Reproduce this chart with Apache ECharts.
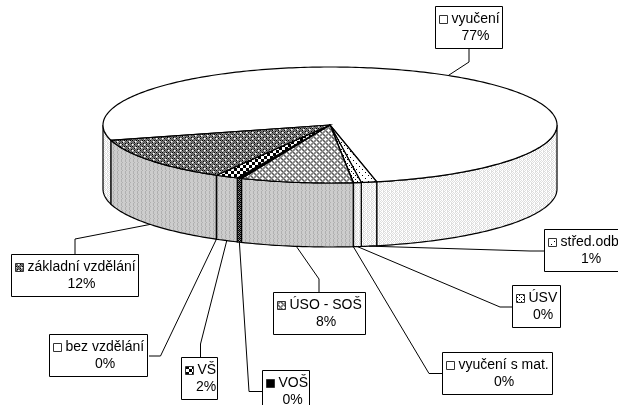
<!DOCTYPE html>
<html>
<head>
<meta charset="utf-8">
<style>html,body{margin:0;padding:0;background:#fff}#chart{width:618px;height:405px}</style>
<script src="https://cdn.jsdelivr.net/npm/echarts@6/dist/echarts.min.js"></script>
</head>
<body>
<div id="chart"></div>
<script>
// clockwise from the back of the pie
var categories = ["vyučení", "střed.odb", "ÚSV", "vyučení s mat.", "ÚSO - SOŠ", "VOŠ", "VŠ", "bez vzdělání", "základní vzdělání"];
var sliceValues = [75.95, 1.1, 0.55, 0.02, 8, 0.33, 1.63, 0.02, 12.4];
var percentLabels = ["77%", "1%", "0%", "0%", "8%", "0%", "2%", "0%", "12%"];

// pie geometry
var cx = 330, cy = 125, rx = 227, ry = 58, depth = 64, startAngle = 164.7;

// label boxes: x, y, w, h, then the elbow of the leader and where it meets the box
var boxes = [
  [435.5, 6.5, 67, 42, [469, 62], [469, 49]],
  [544.5, 229.5, 80, 42, [530, 251], [544, 251]],
  [512.5, 285.5, 48, 42, [500, 307], [512, 307]],
  [442.5, 352.5, 110, 42, [429, 373.5], [442, 373.5]],
  [273.5, 292.5, 92, 42, [319, 279], [319, 292]],
  [262.5, 370.5, 47, 42, [249, 391.5], [262, 391.5]],
  [181.5, 357.5, 36, 42, [200.5, 344], [200.5, 357]],
  [49.5, 334.5, 98, 42, [160.5, 356], [149, 356]],
  [11.5, 254.5, 127, 42, [75, 239], [75, 254]]
];

var shades = { k: "#000", d: "#555", m: "#808080", g: "#a0a0a0", a: "#b0b0b0", c: "#cccccc", l: "#ccc", e: "#dedede", w: "#fff" };
function tile(rows) {
  var c = document.createElement("canvas");
  c.width = rows[0].length;
  c.height = rows.length;
  var ctx = c.getContext("2d");
  rows.forEach(function (row, y) {
    for (var x = 0; x < row.length; x++) {
      ctx.fillStyle = shades[row[x]];
      ctx.fillRect(x, y, 1, 1);
    }
  });
  return { type: "pattern", image: c, repeat: "repeat" };
}

var wallGray = tile(["cacc", "cacc", "ccac", "cacc"]);
var wallLight = tile(["wewe", "ewew", "wewe", "ewwe"]);
var wallDark = tile(["kg", "mk", "kd", "mk"]);
var tops = [
  "#fff",
  tile(["wwwwww", "wwkwww", "wwwwww", "wwwwww", "wwwwwk", "wwwwww"]),
  tile(["wwww", "wkww", "wwww", "wwwk"]),
  "#fff",
  tile(["gwgdgm", "wwwgmg", "gwgmgd", "dgmgwg", "gmgwww", "mgdgwg"]),
  "#000",
  tile(["kkkwww", "kkkwww", "kkkwww", "wwwkkk", "wwwkkk", "wwwkkk"]),
  "#fff",
  tile(["wlkmdm", "lmmdmd", "kmdmkm", "mdmwld", "dmklmm", "mdmdmk"])
];
var walls = [wallLight, wallLight, wallLight, wallGray, wallGray, wallDark, wallGray, wallGray, wallGray];

var total = sliceValues.reduce(function (a, b) { return a + b; }, 0);
var spans = [];
sliceValues.reduce(function (from, v) {
  var to = from + v / total * 360;
  spans.push([from, to]);
  return to;
}, startAngle);

function rim(deg, drop) {
  var t = deg * Math.PI / 180;
  return [cx + rx * Math.cos(t), cy + drop + ry * Math.sin(t)];
}
function arc(from, to, drop) {
  var pts = [];
  var n = Math.max(1, Math.ceil(Math.abs(to - from)));
  for (var i = 0; i <= n; i++) pts.push(rim(from + (to - from) * i / n, drop));
  return pts;
}

var line = { stroke: "#000", lineWidth: 1.2 };

function renderSlice(params) {
  var i = params.dataIndex;
  var a = spans[i][0], b = spans[i][1];
  var children = [];
  // walls show only on the front half, t in 0..180 (also 360..540)
  [[0, 180], [360, 540]].forEach(function (front) {
    var from = Math.max(a, front[0]), to = Math.min(b, front[1]);
    if (to <= from) return;
    children.push({
      type: "polygon",
      shape: { points: arc(from, to, 0).concat(arc(to, from, depth)) },
      style: Object.assign({ fill: walls[i] }, line)
    });
  });
  children.push({
    type: "polygon",
    shape: { points: [[cx, cy]].concat(arc(a, b, 0)) },
    style: Object.assign({ fill: tops[i] }, line)
  });
  return { type: "group", children: children };
}

function renderLabel(params) {
  var i = params.dataIndex;
  var box = boxes[i];
  var mid = (spans[i][0] + spans[i][1]) / 2;
  var front = Math.sin(mid * Math.PI / 180) > 0;
  var nameX = box[0] + 16;
  var centre = (nameX + box[0] + box[2] - 3) / 2;
  var text = { fill: "#000", font: "14px 'Liberation Sans', Arial, sans-serif", textVerticalAlign: "middle" };
  return {
    type: "group",
    children: [
      {
        type: "polyline",
        shape: { points: [rim(mid, front ? depth : 0), box[4], box[5]] },
        style: { stroke: "#000", lineWidth: 1, fill: null }
      },
      {
        type: "rect",
        shape: { x: box[0], y: box[1], width: box[2], height: box[3] },
        style: { fill: "#fff", stroke: "#000", lineWidth: 1 }
      },
      {
        type: "rect",
        shape: { x: box[0] + 4, y: box[1] + 9, width: 8, height: 8 },
        style: { fill: tops[i], stroke: "#333", lineWidth: 1 }
      },
      {
        type: "text",
        style: Object.assign({ x: nameX, y: box[1] + 13, text: categories[i], textAlign: "left" }, text)
      },
      {
        type: "text",
        style: Object.assign({ x: centre, y: box[1] + 30, text: percentLabels[i], textAlign: "center" }, text)
      }
    ]
  };
}

var myChart = echarts.init(document.getElementById("chart"), null, { renderer: "canvas" });
var option = {
  animation: false,
  series: [
    { type: "custom", coordinateSystem: "none", data: sliceValues, renderItem: renderSlice, z: 2, silent: true },
    { type: "custom", coordinateSystem: "none", data: sliceValues, renderItem: renderLabel, z: 3, silent: true }
  ]
};
myChart.setOption(option);
</script>
</body>
</html>
